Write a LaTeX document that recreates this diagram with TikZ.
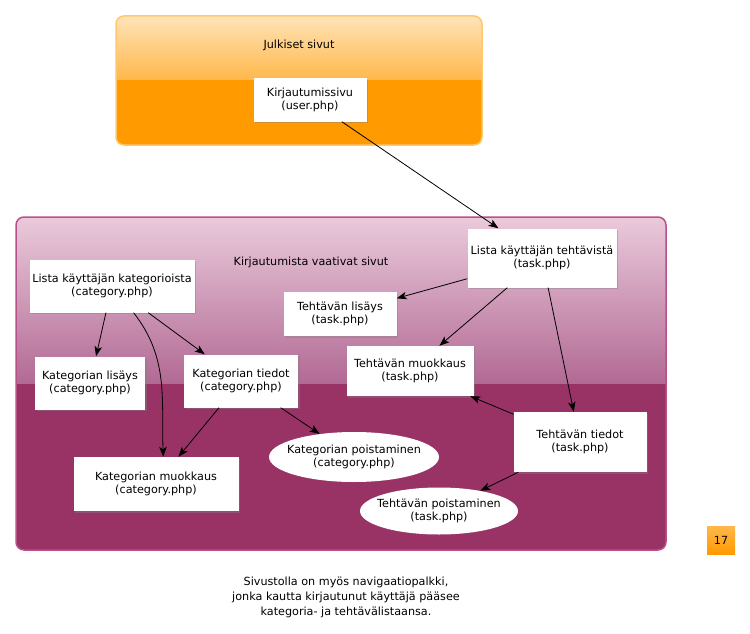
\documentclass[tikz,border=0pt]{standalone}
\usepackage{fontspec}
\setmainfont{DejaVu Sans}
\usetikzlibrary{arrows.meta,shadows,shapes.geometric}
\definecolor{oranssi}{HTML}{FF9A00}
\definecolor{oranssiyla}{HTML}{FFE3B8}
\definecolor{oranssikeski}{HTML}{FFB84A}
\definecolor{oranssireuna}{HTML}{FFC870}
\definecolor{violetti}{HTML}{993366}
\definecolor{violettiyla}{HTML}{EACADB}
\definecolor{violettikeski}{HTML}{B26A94}
\definecolor{violettireuna}{HTML}{B8508A}
\begin{document}
\begin{tikzpicture}[x=1pt,y=-1pt]
\tikzset{sivu/.style={fill=white, align=center, inner sep=2pt, font=\fontsize{11.2}{13.5}\selectfont,
    drop shadow={shadow xshift=1.5pt, shadow yshift=-1.5pt, opacity=0.4}},
  soikio/.style={ellipse, fill=white, align=center, inner xsep=-10pt, inner ysep=0pt, font=\fontsize{11.2}{13.5}\selectfont},
  otsikko/.style={font=\fontsize{11.2}{13.5}\selectfont},
  nuoli/.style={-{Stealth[length=10pt,width=7.5pt,inset=2.5pt]}, line width=0.8pt}}
\useasboundingbox (0,0) rectangle (750,634);

% julkiset sivut
\begin{scope}
  \clip[rounded corners=8] (116,16) rectangle (482,145);
  \fill[oranssi] (116,16) rectangle (482,145);
  \shade[top color=oranssiyla, bottom color=oranssikeski] (116,16) rectangle (482,80);
\end{scope}
\draw[oranssireuna, line width=1.5pt, rounded corners=8] (116,16) rectangle (482,145);

% kirjautumista vaativat sivut
\begin{scope}
  \clip[rounded corners=8] (16,217) rectangle (666,550);
  \fill[violetti] (16,217) rectangle (666,550);
  \shade[top color=violettiyla, bottom color=violettikeski] (16,217) rectangle (666,383);
\end{scope}
\draw[violettireuna, line width=1.5pt, rounded corners=8] (16,217) rectangle (666,550);

\node[otsikko] (julk) at (299,45) {Julkiset sivut};
\node[otsikko] (vaat) at (311,262) {Kirjautumista vaativat sivut};

\node[sivu, minimum width=113, minimum height=43] (kirj) at (310,100) {Kirjautumissivu\\(user.php)};
\node[sivu, minimum width=149, minimum height=59] (tlista) at (542,258) {Lista käyttäjän tehtävistä\\(task.php)};
\node[sivu, minimum width=165, minimum height=53] (klista) at (112,286) {Lista käyttäjän kategorioista\\(category.php)};
\node[sivu, minimum width=113, minimum height=44] (tlis) at (340,314) {Tehtävän lisäys\\(task.php)};
\node[sivu, minimum width=110, minimum height=53] (klis) at (90,383) {Kategorian lisäys\\(category.php)};
\node[sivu, minimum width=114, minimum height=53] (ktie) at (241,381) {Kategorian tiedot\\(category.php)};
\node[sivu, minimum width=127, minimum height=50] (tmuo) at (410,371) {Tehtävän muokkaus\\(task.php)};
\node[sivu, minimum width=133, minimum height=60] (ttie) at (580,442) {Tehtävän tiedot\\(task.php)};
\node[sivu, minimum width=165, minimum height=54] (kmuo) at (156,484) {Kategorian muokkaus\\(category.php)};
\node[soikio, minimum width=170, minimum height=50] (kpoi) at (354,457) {Kategorian poistaminen\\(category.php)};
\node[soikio, minimum width=158, minimum height=47] (tpoi) at (439,511) {Tehtävän poistaminen\\(task.php)};

\path[nuoli] (kirj) edge (tlista);
\path[nuoli] (tlista) edge (tlis);
\path[nuoli] (tlista) edge (tmuo);
\path[nuoli] (tlista) edge (ttie);
\path[nuoli] (ttie) edge (tmuo);
\path[nuoli] (ttie) edge (tpoi);
\path[nuoli] (klista) edge (klis);
\path[nuoli] (klista) edge (ktie);
\path[nuoli] (klista.-51) edge[out=-52, in=92] (kmuo.75);
\path[nuoli] (ktie) edge (kmuo);
\path[nuoli] (ktie) edge (kpoi);

% sivunumero
\node[shade, top color=oranssikeski, bottom color=oranssi, minimum size=28, inner sep=0pt, otsikko] (sivunro) at (721,540) {17};

\node[align=center, font=\fontsize{11.2}{15}\selectfont] (alat) at (346,597)
  {Sivustolla on myös navigaatiopalkki,\\jonka kautta kirjautunut käyttäjä pääsee\\kategoria- ja tehtävälistaansa.};
\end{tikzpicture}
\end{document}
